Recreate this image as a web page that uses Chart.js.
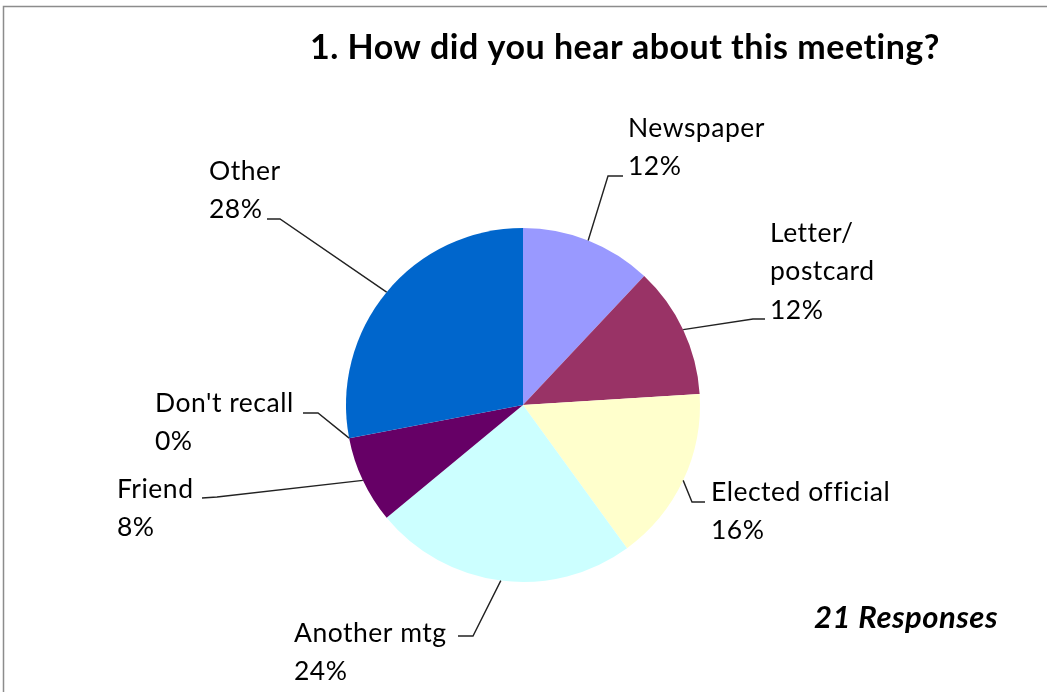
<!DOCTYPE html>
<html>
<head>
<meta charset="utf-8">
<script src="https://cdn.jsdelivr.net/npm/chart.js@4"></script>
<style>
  body { margin: 0; background: #fff; }
  #wrap { position: relative; width: 1047px; height: 692px; }
</style>
</head>
<body>
<div id="wrap"><canvas id="chartHear" width="1047" height="692"></canvas></div>
<script>
// data
const categories = ["Newspaper", "Letter/postcard", "Elected official", "Another mtg", "Friend", "Don't recall", "Other"];
const percents = [12, 12, 16, 24, 8, 0, 28];
const colors = ["#9999FF", "#993366", "#FFFFCC", "#CCFFFF", "#660066", "#0066CC", "#0066CC"];
const titleText = "1. How did you hear about this meeting?";
const noteText = "21 Responses";

// label layout: text left/top line centre, leader elbow and end
const labelLayout = [
  { lines: ["Newspaper"], x: 628, y: 128, elbow: [608, 176], end: [623, 176] },
  { lines: ["Letter/", "postcard"], x: 770, y: 233, elbow: [753, 319], end: [765, 319] },
  { lines: ["Elected official"], x: 711, y: 492, elbow: [692, 502], end: [705, 502] },
  { lines: ["Another mtg"], x: 294, y: 633, elbow: [473, 636], end: [458, 636] },
  { lines: ["Friend"], x: 117, y: 489, elbow: [217, 497], end: [202, 498] },
  { lines: ["Don't recall"], x: 155, y: 403, elbow: [318, 413], end: [303, 413] },
  { lines: ["Other"], x: 209, y: 171, elbow: [280, 219], end: [267, 219] }
];

const labelFont = "26.5px Lato";
const lineH = 38.5;

const excelLabels = {
  id: "excelLabels",
  afterDraw(chart) {
    const ctx = chart.ctx;
    const meta = chart.getDatasetMeta(0);
    ctx.save();

    // frame
    ctx.strokeStyle = "#8c8c8c";
    ctx.lineWidth = 1.5;
    ctx.strokeRect(3.5, 6.5, 1100, 800);

    ctx.letterSpacing = "0.5px";

    // title
    ctx.fillStyle = "#000";
    ctx.font = "bold 34px Lato";
    ctx.textAlign = "center";
    ctx.textBaseline = "middle";
    ctx.fillText(titleText, 625, 48);

    // note
    ctx.font = "italic bold 31px Lato";
    ctx.textAlign = "right";
    ctx.fillText(noteText, 998, 618);

    // labels + leader lines
    ctx.font = labelFont;
    ctx.textAlign = "left";
    meta.data.forEach((arc, i) => {
      const L = labelLayout[i];
      const mid = (arc.startAngle + arc.endAngle) / 2;
      const ax = arc.x + Math.cos(mid) * arc.outerRadius;
      const ay = arc.y + Math.sin(mid) * arc.outerRadius;
      ctx.strokeStyle = "#222";
      ctx.lineWidth = 1.4;
      ctx.beginPath();
      ctx.moveTo(ax, ay);
      ctx.lineTo(L.elbow[0], L.elbow[1]);
      ctx.lineTo(L.end[0], L.end[1]);
      ctx.stroke();

      const lines = L.lines.concat([percents[i] + "%"]);
      lines.forEach((t, k) => ctx.fillText(t, L.x, L.y + k * lineH));
    });
    ctx.restore();
  }
};

new Chart(document.getElementById("chartHear"), {
  type: "pie",
  data: {
    labels: categories,
    datasets: [{
      data: percents,
      backgroundColor: colors,
      borderWidth: 0
    }]
  },
  options: {
    responsive: false,
    animation: false,
    layout: { padding: { left: 346, right: 347, top: 228, bottom: 110 } },
    plugins: {
      legend: { display: false },
      tooltip: { enabled: false }
    }
  },
  plugins: [excelLabels]
});
</script>
</body>
</html>
